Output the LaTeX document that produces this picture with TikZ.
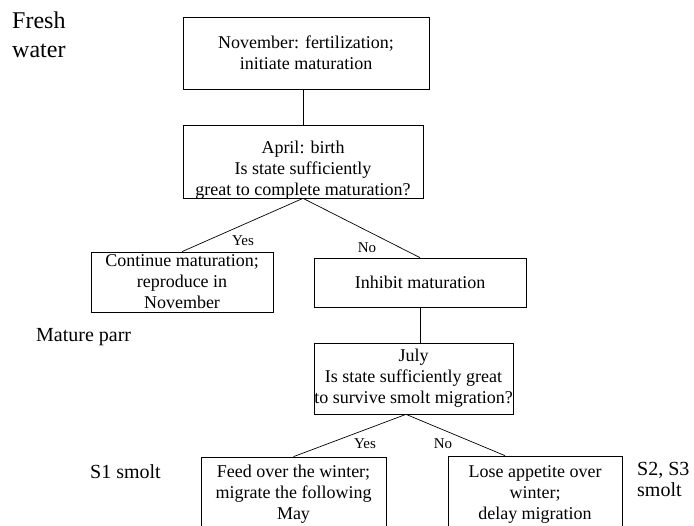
\documentclass[tikz,border=0pt]{standalone}
\usepackage{fontspec}
\setmainfont{Liberation Serif}
\begin{document}
\begin{tikzpicture}[x=1pt,y=-1pt,
    box/.style={draw,line width=0.7pt,inner sep=0pt,align=center,font=\fontsize{18}{21}\selectfont},
    boxtext/.style={align=center,inner sep=0pt,font=\fontsize{18}{21}\selectfont},
    yesno/.style={inner sep=0pt,font=\fontsize{15}{18}\selectfont},
    side/.style={inner sep=0pt,align=left,font=\fontsize{20}{21}\selectfont}]
    \useasboundingbox (0,0) rectangle (694,526);
    \node[box,minimum width=246pt,minimum height=72pt] (nov) at (306,53) {November: fertilization;\\initiate maturation};
    \node[box,minimum width=240pt,minimum height=73pt,
      label={[boxtext,yshift=-8.5pt]center:{April: birth\\Is state sufficiently\\great to complete maturation?}}] (april) at (303,161.5) {};
    \node[box,minimum width=182pt,minimum height=60pt] (cont) at (182,282) {Continue maturation;\\reproduce in\\November};
    \node[box,minimum width=212pt,minimum height=49pt] (inhibit) at (420,282.5) {Inhibit maturation};
    \node[box,minimum width=199pt,minimum height=71pt] (july) at (413.5,378.5) {July\\Is state sufficiently great\\to survive smolt migration?};
    \node[box,minimum width=185pt,minimum height=75pt] (feed) at (293.5,494.5) {Feed over the winter;\\migrate the following\\May};
    \node[box,minimum width=174pt,minimum height=77pt] (lose) at (535,494.5) {Lose appetite over\\winter;\\delay migration};
    % side labels
    \node[side,anchor=north west,font=\fontsize{24}{29}\selectfont] (fresh) at (12,11.6) {Fresh\\water};
    \node[side,anchor=base west] (parr) at (36,342) {Mature parr};
    \node[side,anchor=base west] (sone) at (90,479) {S1 smolt};
    \node[side,anchor=north west] (stwo) at (637,462.5) {S2, S3\\smolt};
    % connectors
    \coordinate (julyApex) at ([xshift=-7.5pt]july.south);
    \coordinate (loseTop) at ([xshift=-30pt]lose.north);
    \draw[line width=0.7pt] (nov.south -| april.north) -- (april.north);
    \draw[line width=0.7pt] (april.south) -- (cont.north);
    \draw[line width=0.7pt] (april.south) -- (inhibit.north);
    \draw[line width=0.7pt] (inhibit.south) -- (inhibit.south |- july.north);
    \draw[line width=0.7pt] (julyApex) -- (feed.north);
    \draw[line width=0.7pt] (julyApex) -- (loseTop);
    \node[yesno] (yesA) at (243,241) {Yes};
    \node[yesno] (noA) at (367,248) {No};
    \node[yesno] (yesB) at (365,444) {Yes};
    \node[yesno] (noB) at (443,444) {No};
\end{tikzpicture}
\end{document}
